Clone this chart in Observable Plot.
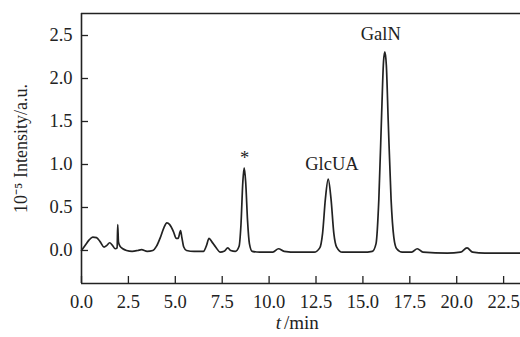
<!DOCTYPE html>
<html>
<head>
<meta charset="utf-8">
<script src="https://cdn.jsdelivr.net/npm/d3@7"></script>
<script src="https://cdn.jsdelivr.net/npm/@observablehq/plot@0.6"></script>
<style>
  html, body { margin: 0; padding: 0; background: #fff; overflow: hidden; }
  #chart svg { display: block; }
  #chart svg text { font-family: 'Liberation Serif', 'Times New Roman', serif; }
</style>
</head>
<body>
<div id="chart"></div>
<script>
// retention time (min) and intensity (10^-5 a.u.)
const times = [0.0, 0.2, 0.4, 0.6, 0.8, 1.0, 1.2, 1.35, 1.5, 1.65, 1.8, 1.9, 1.93, 1.97, 2.05, 2.2, 2.4, 2.7, 3.0, 3.2, 3.5, 3.8,
  4.0, 4.2, 4.4, 4.55, 4.7, 4.9, 5.05, 5.15, 5.28, 5.35, 5.45, 5.6, 6.0, 6.5, 6.65, 6.8, 6.95, 7.15, 7.4, 7.6, 7.8, 7.95,
  8.2, 8.4, 8.5, 8.6, 8.67, 8.75, 8.85, 8.95, 9.1, 9.5, 10.2, 10.5, 10.8, 11.5, 12.4, 12.7, 12.85, 13.0, 13.15, 13.3, 13.45,
  13.6, 13.9, 15.0, 15.5, 15.7, 15.85, 16.0, 16.1, 16.17, 16.25, 16.35, 16.5, 16.65, 16.8, 17.1, 17.6, 17.9, 18.2, 19.5,
  20.2, 20.55, 20.85, 21.5, 23.5];
const intensity = [0.00, 0.06, 0.12, 0.155, 0.15, 0.10, 0.04, 0.06, 0.09, 0.06, 0.02, 0.03, 0.30, 0.10, 0.05, 0.02, 0.00, -0.01, 0.00, 0.01, -0.01, 0.00,
  0.05, 0.15, 0.27, 0.32, 0.30, 0.22, 0.14, 0.14, 0.23, 0.15, 0.04, 0.00, -0.01, -0.01, 0.05, 0.14, 0.10, 0.04, -0.02, -0.01, 0.03, 0.00,
  -0.01, 0.05, 0.30, 0.80, 0.96, 0.80, 0.35, 0.08, -0.01, -0.02, -0.02, 0.02, -0.01, -0.02, -0.02, 0.03, 0.20, 0.60, 0.83, 0.60, 0.20,
  0.04, -0.02, -0.02, -0.01, 0.08, 0.60, 1.60, 2.20, 2.31, 2.15, 1.50, 0.60, 0.15, 0.02, -0.02, -0.02, 0.02, -0.02, -0.03,
  -0.02, 0.03, -0.02, -0.03, -0.03];

const peakLabels = ["*", "GlcUA", "GalN"];
const peakLabelT = [8.7, 13.35, 15.95];
const peakLabelY = [1.08, 1.01, 2.52];

const xTicks = [0, 2.5, 5, 7.5, 10, 12.5, 15, 17.5, 20, 22.5];
const yTicks = [0, 0.5, 1, 1.5, 2, 2.5];
const xDomain = [0, 23.4];
const yDomain = [-0.384, 2.756];

const series = times.map((t, i) => ({t, v: intensity[i]}));
const labels = peakLabels.map((s, i) => ({s, t: peakLabelT[i], v: peakLabelY[i]}));

const font = "'Liberation Serif', 'Times New Roman', serif";
const ink = "#222";

const chart = Plot.plot({
  width: 520,
  height: 337,
  marginLeft: 81,
  marginRight: 0,
  marginTop: 13,
  marginBottom: 54,
  style: {fontFamily: font, fontSize: "18px", color: ink, background: "#fff"},
  x: {domain: xDomain},
  y: {domain: yDomain},
  marks: [
    Plot.ruleX([xDomain[0]], {stroke: ink, strokeWidth: 1.6}),
    Plot.ruleY(yDomain, {stroke: ink, strokeWidth: 1.6}),
    Plot.axisX({ticks: xTicks, tickSize: -7, tickPadding: 18, tickFormat: d3.format(".1f"), label: null, stroke: ink, strokeWidth: 1.3, fill: ink, fontSize: 18.5, fontFamily: font}),
    Plot.axisY({ticks: yTicks, tickSize: -7, tickPadding: 16, tickFormat: d3.format(".1f"), label: null, stroke: ink, strokeWidth: 1.3, fill: ink, fontSize: 18.5, fontFamily: font}),
    Plot.line(series, {x: "t", y: "v", curve: "monotone-x", stroke: ink, strokeWidth: 1.7}),
    Plot.text(labels, {x: "t", y: "v", text: "s", fontSize: 18.5, fill: ink, fontFamily: font}),
    Plot.text(["10\u207B\u2075 Intensity/a.u."], {frameAnchor: "left", textAnchor: "middle", rotate: -90, dx: -60, fontSize: 18, fill: ink, fontFamily: font}),
    Plot.text(["t"], {frameAnchor: "bottom", dy: 45, dx: -20, textAnchor: "end", fontStyle: "italic", fontSize: 19, fill: ink, fontFamily: font}),
    Plot.text(["/min"], {frameAnchor: "bottom", dy: 45, dx: -17, textAnchor: "start", fontSize: 19, fill: ink, fontFamily: font})
  ]
});
document.getElementById("chart").appendChild(chart);
</script>
</body>
</html>
